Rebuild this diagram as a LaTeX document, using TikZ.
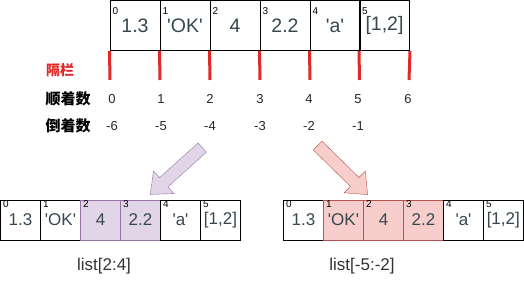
\documentclass[tikz,border=0pt]{standalone}
\usepackage{fontspec}
\setmainfont{Liberation Sans}
\newfontfamily\cjk{Noto Sans CJK SC}
\usetikzlibrary{shapes.arrows, positioning}
\definecolor{valtext}{HTML}{36474F}
\definecolor{barred}{HTML}{E02828}
\definecolor{purplefill}{HTML}{E1D5E7}
\definecolor{purpleline}{HTML}{9673A6}
\definecolor{redfill}{HTML}{F8CECC}
\definecolor{redline}{HTML}{B85450}
\newcommand{\quoted}[1]{\textquotesingle#1\textquotesingle}
\tikzstyle{bigcell}    = [draw, line width=1pt, minimum width=50pt, minimum height=50pt, inner sep=0pt, text=valtext, font=\fontsize{19.5}{19.5}\selectfont]
\tikzstyle{smallcell}  = [draw, line width=1pt, minimum width=40pt, minimum height=40pt, inner sep=0pt, text=valtext, font=\fontsize{17}{17}\selectfont]
\tikzstyle{bigidx}     = [label={[anchor=north west, inner sep=0pt, xshift=3pt, yshift=-7pt, text=black, font=\fontsize{10}{10}\selectfont]north west:#1}]
\tikzstyle{smallidx}   = [label={[anchor=north west, inner sep=0pt, xshift=3pt, yshift=-1pt, text=black, font=\fontsize{10}{10}\selectfont]north west:#1}]
\tikzstyle{pickpurple} = [fill=purplefill, draw=purpleline]
\tikzstyle{pickred}    = [fill=redfill, draw=redline]
\tikzstyle{divider}    = [barred, line width=3pt]
\tikzstyle{count}      = [inner sep=0pt, text=black!85, font=\fontsize{13}{13}\selectfont]
\tikzstyle{rowlabel}   = [inner sep=0pt, font=\cjk\bfseries\fontsize{15}{15}\selectfont]
\tikzstyle{slicelabel} = [inner sep=0pt, text=black!80, font=\fontsize{17}{17}\selectfont]
\tikzstyle{blockarrow} = [single arrow, draw, minimum height=70pt, inner xsep=0pt, inner ysep=6pt, single arrow head extend=9pt, single arrow tip angle=80]

\begin{document}
\begin{tikzpicture}[x=1pt, y=-1pt]
        \useasboundingbox (0,0) rectangle (524,283);

        % Seznam nahoře
        \node[bigcell, bigidx=0] (t0) at (135,25.5) {1.3};
        \node[bigcell, bigidx=1] (t1) at (185,25.5) {\quoted{OK}};
        \node[bigcell, bigidx=2] (t2) at (235,25.5) {4};
        \node[bigcell, bigidx=3] (t3) at (285,25.5) {2.2};
        \node[bigcell, bigidx=4] (t4) at (335,25.5) {\quoted{a}};
        \node[bigcell, bigidx=5] (t5) at (384.5,25.5) {[1,2]};

        % Přepážky
        \foreach \i/\x in {0/110, 1/160, 2/210, 3/260, 4/310, 5/359.5, 6/409}
            \coordinate (b\i) at (\x,80);
        \draw[divider] (t0.south west) -- (b0);
        \draw[divider] (t1.south west) -- (b1);
        \draw[divider] (t2.south west) -- (b2);
        \draw[divider] (t3.south west) -- (b3);
        \draw[divider] (t4.south west) -- (b4);
        \draw[divider] (t5.south west) -- (b5);
        \draw[divider] (t5.south east) -- (b6);

        % Popisky řádků
        \node[rowlabel, text=barred, font=\cjk\bfseries\fontsize{14}{14}\selectfont] (sep) at (60,70) {隔栏};
        \node[rowlabel] (fwd) at (68,99) {顺着数};
        \node[rowlabel] (bwd) at (68,126) {倒着数};

        % Indexy
        \foreach \i/\x in {0/112, 1/161, 2/210, 3/260, 4/309, 5/358, 6/408}
            \node[count] (f\i) at (\x,99) {\i};
        \foreach \n/\x in {6/112, 5/161, 4/210, 3/260, 2/309, 1/358}
            \node[count] (r\n) at (\x,126) {-\n};

        % Šipky
        \node[blockarrow, pickpurple, rotate=222] (arrL) at (179,168.5) {};
        \node[blockarrow, pickred, rotate=-44.5] (arrR) at (340,167.5) {};

        % Výřez list[2:4]
        \node[smallcell, smallidx=0] (l0) at (20.5,220) {1.3};
        \node[smallcell, smallidx=1] (l1) at (60.5,220) {\quoted{OK}};
        \node[smallcell, smallidx=2, pickpurple] (l2) at (100.5,220) {4};
        \node[smallcell, smallidx=3, pickpurple] (l3) at (140.5,220) {2.2};
        \node[smallcell, smallidx=4] (l4) at (180.5,220) {\quoted{a}};
        \node[smallcell, smallidx=5] (l5) at (220.5,220) {[1,2]};

        % Výřez list[-5:-2]
        \node[smallcell, smallidx=0] (m0) at (303.5,220) {1.3};
        \node[smallcell, smallidx=1, pickred] (m1) at (343.5,220) {\quoted{OK}};
        \node[smallcell, smallidx=2, pickred] (m2) at (383.5,220) {4};
        \node[smallcell, smallidx=3, pickred] (m3) at (423.5,220) {2.2};
        \node[smallcell, smallidx=4] (m4) at (463.5,220) {\quoted{a}};
        \node[smallcell, smallidx=5] (m5) at (503.3,220) {[1,2]};

        % Popisky výřezů
        \node[slicelabel] (sl1) at (104,266) {list[2:4]};
        \node[slicelabel] (sl2) at (362,266) {list[-5:-2]};

    \end{tikzpicture}
\end{document}
